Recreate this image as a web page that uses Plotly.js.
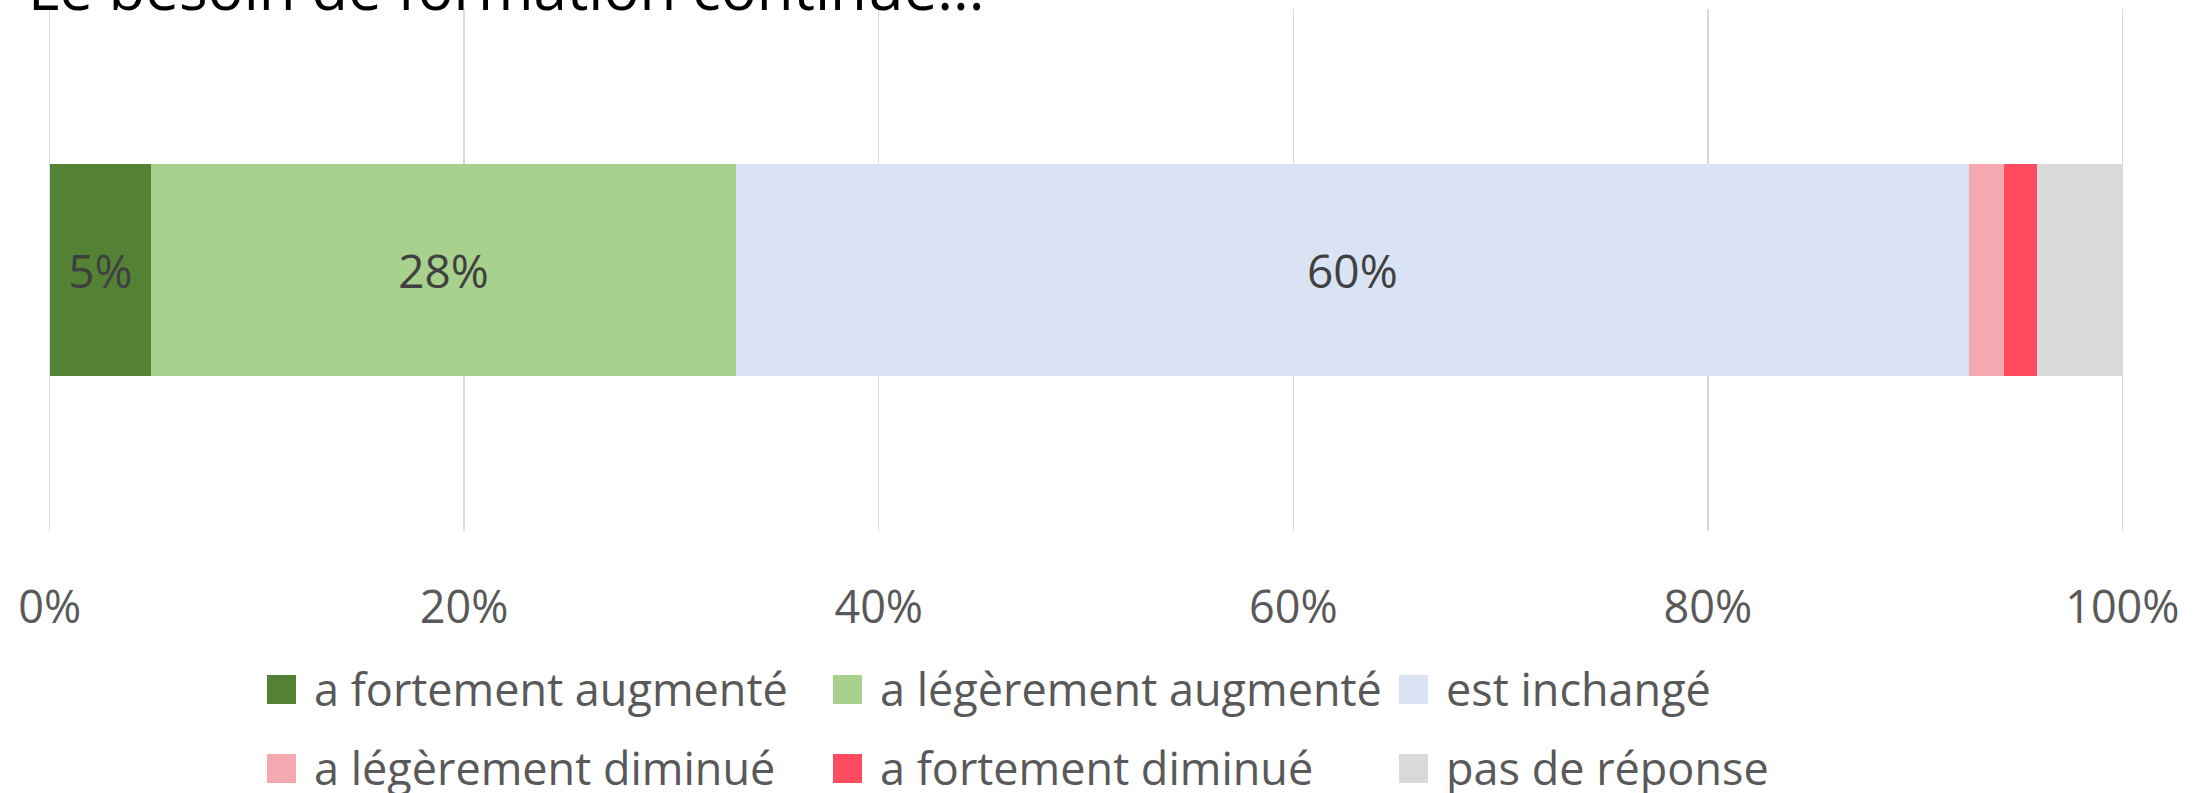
<!DOCTYPE html>
<html>
<head>
<meta charset="utf-8">
<script src="https://cdn.plot.ly/plotly-3.0.1.min.js"></script>
<style>
  html, body { margin: 0; padding: 0; background: #fff; }
  #chart { width: 2203px; height: 793px; }
</style>
</head>
<body>
<div id="chart"></div>
<script>
// ---- data ----
const category = ["Le besoin de formation continue"];
const seriesNames = [
  "a fortement augmenté",
  "a légèrement augmenté",
  "est inchangé",
  "a légèrement diminué",
  "a fortement diminué",
  "pas de réponse"
];
const seriesValues = [4.9, 28.2, 59.5, 1.7, 1.6, 4.1];
const seriesLabels = ["5%", "28%", "60%", "", "", ""];
const seriesColors = ["#548235", "#A9D18E", "#DAE3F3", "#F4A8B0", "#FF4B5F", "#D9D9D9"];
const tickValues = [0, 20, 40, 60, 80, 100];
const tickLabels = ["0%", "20%", "40%", "60%", "80%", "100%"];
const titleText = "Le besoin de formation continue...";

// ---- layout constants ----
const W = 2203, H = 793;
const M = { l: 48, r: 79, t: 9, b: 262 };
const plotW = W - M.l - M.r;
const plotH = H - M.t - M.b;
const FONT = "Open Sans, Noto Sans, sans-serif";

const traces = seriesNames.map((name, i) => ({
  type: "bar",
  orientation: "h",
  name: name,
  y: category,
  x: [seriesValues[i]],
  text: [seriesLabels[i]],
  textposition: "inside",
  insidetextanchor: "middle",
  textangle: 0,
  constraintext: "none",
  textfont: { family: FONT, size: 46, color: "#404040" },
  marker: { color: seriesColors[i], line: { width: 0 } },
  hoverinfo: "skip",
  showlegend: false
}));

// ---- custom legend (3 columns x 2 rows) ----
const legCol0 = 267, legColStep = 566, legSw = 29, legTextGap = 45;
const legRowCenters = [689.5, 768.5];
const toPx = px => (px - M.l) / plotW;
const toPy = py => (M.t + plotH - py) / plotH;
const shapes = [];
const annotations = [];
seriesNames.forEach((name, i) => {
  const col = i % 3, row = Math.floor(i / 3);
  const x0 = legCol0 + col * legColStep;
  const cy = legRowCenters[row];
  shapes.push({
    type: "rect", xref: "paper", yref: "paper",
    x0: toPx(x0), x1: toPx(x0 + legSw),
    y0: toPy(cy - legSw / 2), y1: toPy(cy + legSw / 2),
    fillcolor: seriesColors[i], line: { width: 0 }
  });
  annotations.push({
    xref: "paper", yref: "paper",
    x: toPx(x0 + legTextGap), y: toPy(cy - 1.5),
    xanchor: "left", yanchor: "middle",
    text: name, showarrow: false,
    font: { family: FONT, size: 45, color: "#595959" }
  });
});

const layout = {
  width: W, height: H,
  margin: M,
  paper_bgcolor: "#ffffff",
  plot_bgcolor: "#ffffff",
  barmode: "stack",
  bargap: 0.595,
  showlegend: false,
  title: {
    text: titleText,
    font: { family: FONT, size: 60, color: "#000000" },
    xref: "container", yref: "container",
    x: 28 / W, xanchor: "left",
    y: 1 - 10 / H, yanchor: "bottom",
    pad: { t: 0, b: 0, l: 0, r: 0 }
  },
  xaxis: {
    range: [-0.08, 100.08],
    tickvals: tickValues,
    ticktext: tickLabels,
    ticks: "",
    ticklabelstandoff: 46,
    showgrid: true,
    gridcolor: "#D9D9D9",
    gridwidth: 1.5,
    zeroline: false,
    showline: false,
    tickfont: { family: FONT, size: 45, color: "#595959" },
    fixedrange: true
  },
  yaxis: {
    showticklabels: false,
    showgrid: false,
    zeroline: false,
    showline: false,
    ticks: "",
    fixedrange: true
  },
  shapes: shapes,
  annotations: annotations
};

Plotly.newPlot("chart", traces, layout, { displayModeBar: false, staticPlot: true });
</script>
</body>
</html>
